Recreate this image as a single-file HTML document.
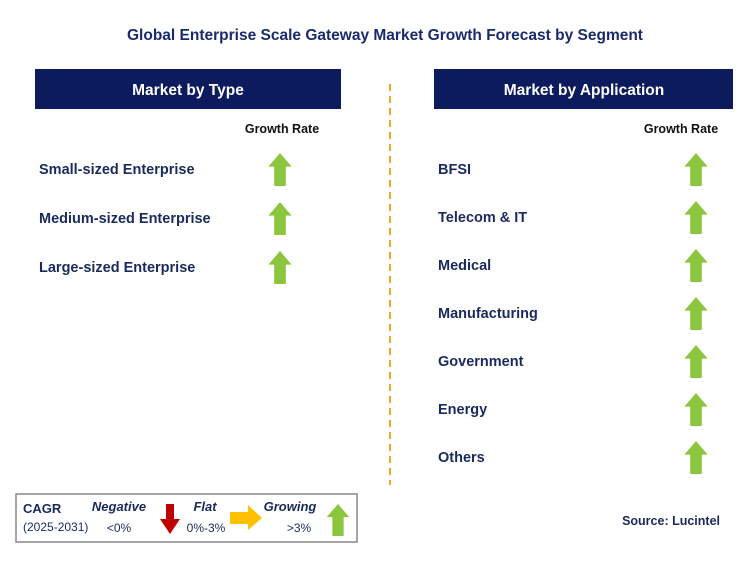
<!DOCTYPE html>
<html><head><meta charset="utf-8"><style>
body{margin:0;background:#fff;}
svg{display:block;font-family:"Liberation Sans",Arial,sans-serif;}
</style></head><body>
<svg width="751" height="565" viewBox="0 0 751 565">
<defs>
<symbol id="up" viewBox="0 0 24 34"><polygon points="12,0 24,14 18,14 18,34 6,34 6,14 0,14" fill="#8cc63f"/></symbol>
</defs>
<text x="385" y="40" text-anchor="middle" font-size="15.5" font-weight="bold" fill="#1a2a6c">Global Enterprise Scale Gateway Market Growth Forecast by Segment</text>
<rect x="35" y="69" width="306" height="40" fill="#0c1a5e"/>
<text x="188" y="95" text-anchor="middle" font-size="15.5" font-weight="bold" fill="#fff">Market by Type</text>
<rect x="434" y="69" width="299" height="40" fill="#0c1a5e"/>
<text x="584" y="95" text-anchor="middle" font-size="15.5" font-weight="bold" fill="#fff">Market by Application</text>
<line x1="390" y1="84" x2="390" y2="485" stroke="#f5a623" stroke-width="2" stroke-dasharray="7,5"/>
<text x="282" y="133" text-anchor="middle" font-size="12.5" font-weight="bold" fill="#111">Growth Rate</text>
<text x="681" y="133" text-anchor="middle" font-size="12.5" font-weight="bold" fill="#111">Growth Rate</text>
<g id="left" font-size="14.5" font-weight="bold" fill="#1a2a5c"></g>
<g id="right" font-size="14.5" font-weight="bold" fill="#1a2a5c"></g>
<rect x="16" y="494" width="341" height="48" fill="#fff" stroke="#888" stroke-width="1.5"/>
<text x="23" y="513" font-size="13" font-weight="bold" fill="#1a2a5c">CAGR</text>
<text x="23" y="531" font-size="12" fill="#1a2a5c">(2025-2031)</text>
<text x="119" y="511" text-anchor="middle" font-size="13" font-weight="bold" font-style="italic" fill="#1a2a5c">Negative</text>
<text x="119" y="532" text-anchor="middle" font-size="12" fill="#1a2a5c">&lt;0%</text>
<polygon points="166,504 174,504 174,519 180,519 170,534 160,519 166,519" fill="#c00000"/>
<text x="205" y="511" text-anchor="middle" font-size="13" font-weight="bold" font-style="italic" fill="#1a2a5c">Flat</text>
<text x="206" y="532" text-anchor="middle" font-size="12" fill="#1a2a5c">0%-3%</text>
<polygon points="230,512 248,512 248,505 262,518 248,530 248,524 230,524" fill="#ffc000"/>
<text x="290" y="511" text-anchor="middle" font-size="13" font-weight="bold" font-style="italic" fill="#1a2a5c">Growing</text>
<text x="299" y="532" text-anchor="middle" font-size="12" fill="#1a2a5c">&gt;3%</text>
<use href="#up" x="326" y="504" width="24" height="32"/>
<text x="720" y="525" text-anchor="end" font-size="12.5" font-weight="bold" fill="#1a2a5c">Source: Lucintel</text>
</svg>
<script>
const types=["Small-sized Enterprise","Medium-sized Enterprise","Large-sized Enterprise"];
const apps=["BFSI","Telecom & IT","Medical","Manufacturing","Government","Energy","Others"];
const NS="http://www.w3.org/2000/svg";
function rows(gid,list,tx,ax,y0,step,prefix){
  const g=document.getElementById(gid);
  list.forEach((s,i)=>{
    const cy=y0+i*step;
    const t=document.createElementNS(NS,"text");
    t.setAttribute("x",tx);t.setAttribute("y",cy+5);t.textContent=s;
    
    
    g.appendChild(t);
    const u=document.createElementNS(NS,"use");
    u.setAttribute("href","#up");u.setAttribute("x",ax-12);u.setAttribute("y",cy-16);
    u.setAttribute("width",24);u.setAttribute("height",33);
    
    
    g.appendChild(u);
  });
}
rows("left",types,39,280,169,49,"type");
rows("right",apps,438,696,169,48,"application");
</script>
</body></html>
